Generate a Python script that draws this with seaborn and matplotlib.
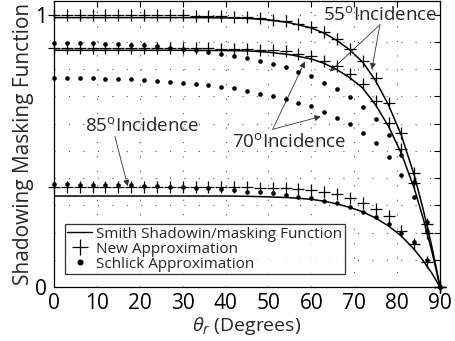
import matplotlib
matplotlib.use("Agg")
import matplotlib.pyplot as plt
import seaborn as sns
import pandas as pd
from matplotlib.lines import Line2D

# ---------------- data ----------------
theta_line = [0, 10, 20, 30, 40, 45, 50, 55, 60, 63, 66, 69, 72, 75, 78, 81, 84, 86, 88, 89, 90]
smith_55 = [0.989, 0.989, 0.989, 0.989, 0.988, 0.986, 0.981, 0.970, 0.951, 0.932, 0.905, 0.870, 0.825, 0.757, 0.668, 0.557, 0.410, 0.290, 0.155, 0.080, 0.0]
smith_70 = [0.869, 0.869, 0.869, 0.869, 0.868, 0.867, 0.862, 0.853, 0.837, 0.821, 0.798, 0.768, 0.730, 0.668, 0.590, 0.490, 0.362, 0.256, 0.137, 0.070, 0.0]
smith_85 = [0.334, 0.334, 0.334, 0.334, 0.334, 0.333, 0.331, 0.328, 0.322, 0.315, 0.305, 0.292, 0.276, 0.253, 0.224, 0.187, 0.138, 0.098, 0.053, 0.027, 0.0]

theta_pts = list(range(0, 91, 3))
new_55 = [0.997, 0.997, 0.997, 0.997, 0.997, 0.997, 0.997, 0.997, 0.997, 0.997, 0.997, 0.996, 0.995, 0.994,
          0.992, 0.990, 0.987, 0.982, 0.975, 0.966, 0.953, 0.935, 0.910, 0.875, 0.830, 0.768, 0.676, 0.567,
          0.420, 0.231, 0.0]
new_70 = [0.878, 0.878, 0.878, 0.878, 0.878, 0.878, 0.878, 0.878, 0.878, 0.878, 0.877, 0.877, 0.876, 0.875,
          0.874, 0.872, 0.871, 0.869, 0.865, 0.857, 0.847, 0.831, 0.811, 0.782, 0.744, 0.682, 0.603, 0.505,
          0.380, 0.200, 0.0]
new_85 = [0.367, 0.367, 0.367, 0.367, 0.367, 0.367, 0.367, 0.367, 0.367, 0.367, 0.367, 0.367, 0.367, 0.367,
          0.366, 0.366, 0.365, 0.364, 0.362, 0.359, 0.355, 0.349, 0.340, 0.328, 0.307, 0.286, 0.259, 0.206,
          0.158, 0.090, 0.0]
sch_55 = [0.896, 0.896, 0.896, 0.895, 0.893, 0.892, 0.890, 0.887, 0.883, 0.879, 0.875, 0.870, 0.864, 0.856,
          0.848, 0.841, 0.831, 0.820, 0.806, 0.790, 0.773, 0.750, 0.727, 0.699, 0.662, 0.617, 0.558, 0.483,
          0.385, 0.238, 0.0]
sch_70 = [0.768, 0.768, 0.767, 0.766, 0.765, 0.764, 0.762, 0.760, 0.757, 0.754, 0.750, 0.745, 0.740, 0.733,
          0.729, 0.720, 0.710, 0.700, 0.690, 0.677, 0.663, 0.641, 0.622, 0.598, 0.567, 0.528, 0.477, 0.411,
          0.330, 0.204, 0.0]
sch_85 = [0.377, 0.377, 0.376, 0.376, 0.375, 0.374, 0.373, 0.372, 0.370, 0.368, 0.366, 0.364, 0.362, 0.359,
          0.356, 0.350, 0.347, 0.344, 0.337, 0.331, 0.325, 0.316, 0.307, 0.292, 0.276, 0.258, 0.233, 0.200,
          0.164, 0.100, 0.0]

x_ticks = list(range(0, 91, 10))
y_ticks = [round(0.1 * i, 1) for i in range(11)]
y_ticklabels = ["0"] + [""] * 9 + ["1"]
legend_labels = ["Smith Shadowin/masking Function", "New Approximation", "Schlick Approximation"]

sns.set_theme(style="white")
plt.rcParams['font.family'] = ['Open Sans', 'DejaVu Sans']
plt.rcParams['mathtext.fontset'] = 'custom'
plt.rcParams['mathtext.rm'] = 'Open Sans'
plt.rcParams['mathtext.it'] = 'Open Sans:italic'

fig = plt.figure(figsize=(4.56, 3.41), dpi=100)
ax = fig.add_axes([54 / 456, 1 - 287 / 341, (440 - 54) / 456, (287 - 1) / 341])

n = len(theta_line)
lines_df = pd.DataFrame({"theta": theta_line * 3,
                         "G": smith_55 + smith_70 + smith_85,
                         "inc": ["55"] * n + ["70"] * n + ["85"] * n})
sns.lineplot(data=lines_df, x="theta", y="G", units="inc", estimator=None, ax=ax,
             color="black", lw=1.1, legend=False, zorder=3)

new_df = pd.DataFrame({"theta": theta_pts * 3, "G": new_55 + new_70 + new_85})
sns.scatterplot(data=new_df, x="theta", y="G", ax=ax, marker="+", s=85, color="black",
                linewidth=0.9, zorder=4, clip_on=False, legend=False)
sch_df = pd.DataFrame({"theta": theta_pts * 3, "G": sch_55 + sch_70 + sch_85})
sns.scatterplot(data=sch_df, x="theta", y="G", ax=ax, marker="o", s=11, color="black",
                linewidth=0, zorder=4, clip_on=False, legend=False)

ax.set_xlim(0, 90)
ax.set_ylim(0, 1.05)
ax.set_xticks(x_ticks)
ax.set_yticks(y_ticks)
ax.set_yticklabels(y_ticklabels)
ax.tick_params(direction="in", length=4, width=0.8, top=True, right=True, labelsize=15, colors="black")
ax.tick_params(axis="x", pad=4)
ax.tick_params(axis="y", pad=5)
for s in ax.spines.values():
    s.set_color("black")
    s.set_linewidth(0.9)
ax.grid(True, color="#555555", linestyle=(0, (1, 12)), linewidth=0.8)
ax.set_xlabel(r"$\theta_r$ (Degrees)", fontsize=14, labelpad=1)
ax.set_ylabel("Shadowing Masking Function", fontsize=15, labelpad=1)

handles = [Line2D([], [], color="black", lw=1.0),
           Line2D([], [], color="black", marker="+", ls="none", ms=11, mew=0.9),
           Line2D([], [], color="black", marker="o", ls="none", ms=3.3)]
leg = ax.legend(handles, legend_labels,
                loc="lower left", bbox_to_anchor=(11 / 386, 13 / 286), fontsize=11, frameon=True,
                fancybox=False, edgecolor="black", borderpad=0.15, handlelength=1.6,
                handletextpad=0.3, labelspacing=0.0, borderaxespad=0)
leg.get_frame().set_linewidth(0.9)

ap = dict(arrowstyle="-|>", color="#333333", lw=0.6, mutation_scale=9, shrinkA=0, shrinkB=0)
ax.annotate("", xy=(64.3, 0.791), xytext=(76.0, 0.963), arrowprops=ap)
ax.annotate("", xy=(74.1, 0.799), xytext=(76.0, 0.963), arrowprops=ap)
ax.text(62.7, 1.0, r"55$^{\mathrm{o}}$Incidence", fontsize=13.5, ha="left", va="center")
ax.annotate("", xy=(58.5, 0.828), xytext=(51.0, 0.579), arrowprops=ap)
ax.annotate("", xy=(62.2, 0.626), xytext=(51.0, 0.579), arrowprops=ap)
ax.text(41.5, 0.531, r"70$^{\mathrm{o}}$Incidence", fontsize=13.5, ha="left", va="center")
ax.annotate("", xy=(17.2, 0.37), xytext=(14.2, 0.553), arrowprops=ap)
ax.text(7.2, 0.59, r"85$^{\mathrm{o}}$Incidence", fontsize=13.5, ha="left", va="center")

fig.savefig("out.png", dpi=100)
